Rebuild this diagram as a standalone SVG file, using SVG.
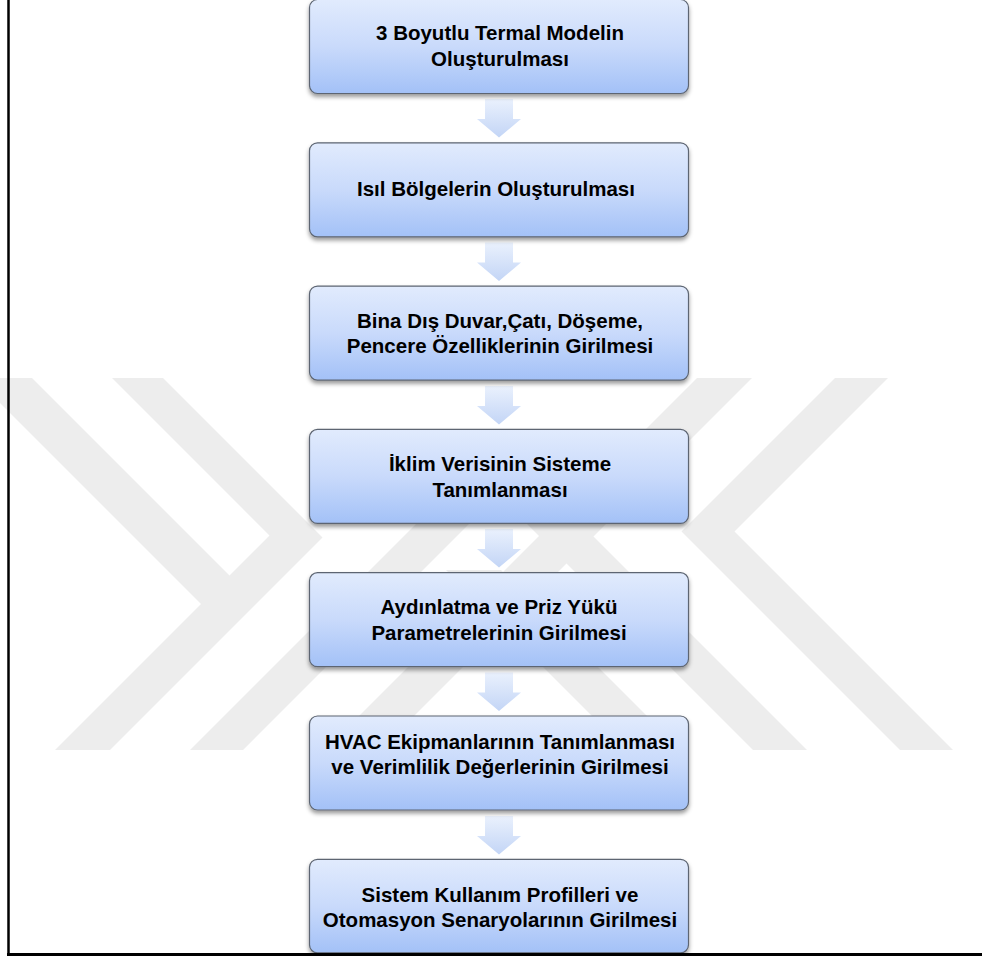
<svg xmlns="http://www.w3.org/2000/svg" width="982" height="956" viewBox="0 0 982 956">
<defs>
  <linearGradient id="boxFill" x1="0" y1="0" x2="0" y2="1">
    <stop offset="0" stop-color="#e1ebfd"/>
    <stop offset="0.5" stop-color="#c9dafb"/>
    <stop offset="1" stop-color="#a3c1f7"/>
  </linearGradient>
  <linearGradient id="arrowFill" x1="0" y1="0" x2="0" y2="1">
    <stop offset="0" stop-color="#eaf1fd"/>
    <stop offset="1" stop-color="#c3d5f6"/>
  </linearGradient>
  <filter id="shadow" x="-5%" y="-10%" width="110%" height="130%">
    <feDropShadow dx="0" dy="3" stdDeviation="2" flood-color="#000" flood-opacity="0.4"/>
  </filter>
  <style>
    .box { fill: url(#boxFill); stroke: #5d6572; stroke-width: 1.2; filter: url(#shadow); }
    .lbl { font-family: "Liberation Sans", Arial, sans-serif; font-weight: bold; font-size: 20.5px; fill: #000; text-anchor: middle; }
    .arrow { fill: url(#arrowFill); }
    .wm { fill: #ededed; }
    .frame { stroke: #000; fill: none; }
  </style>
</defs>
<rect x="0" y="0" width="982" height="956" fill="#ffffff"/>

<g id="watermark">
  <polygon class="wm" points="-25,378 32,378 256,602 201,604"/>
  <polygon class="wm" points="112,378 163,378 322.5,537.5 110,750 55,750 269.5,535.5"/>
  <polygon class="wm" points="190,750 498.5,441.5 807,750 753,750 498,495 243,750"/>
  <polygon class="wm" points="697,378 752,378 380,750 325,750"/>
  <polygon class="wm" points="446,570 501,570 681,750 626,750"/>
  <polygon class="wm" points="835,378 888,378 734.5,531.5 953,750 900,750 681.5,531.5"/>
</g>

<g id="connectors">
  <path class="arrow" d="M485 99 H513 V119 H521 L499 137.5 L477 119 H485 Z"/>
  <path class="arrow" d="M485 242.5 H513 V262.5 H521 L499 281 L477 262.5 H485 Z"/>
  <path class="arrow" d="M485 386 H513 V406 H521 L499 424.5 L477 406 H485 Z"/>
  <path class="arrow" d="M485 529 H513 V549 H521 L499 567.5 L477 549 H485 Z"/>
  <path class="arrow" d="M485 672.5 H513 V692.5 H521 L499 711 L477 692.5 H485 Z"/>
  <path class="arrow" d="M485 816 H513 V836 H521 L499 854.5 L477 836 H485 Z"/>
</g>

<g id="node1">
  <rect class="box" x="309.5" y="-0.5" width="379" height="94" rx="8"/>
  <text class="lbl" x="500" y="40">3 Boyutlu Termal Modelin</text>
  <text class="lbl" x="500" y="66">Oluşturulması</text>
</g>
<g id="node2">
  <rect class="box" x="309.5" y="142.8" width="379" height="94" rx="8"/>
  <text class="lbl" x="496" y="196">Isıl Bölgelerin Oluşturulması</text>
</g>
<g id="node3">
  <rect class="box" x="309.5" y="286.1" width="379" height="94" rx="8"/>
  <text class="lbl" x="500" y="328">Bina Dış Duvar,Çatı, Döşeme,</text>
  <text class="lbl" x="500" y="353">Pencere Özelliklerinin Girilmesi</text>
</g>
<g id="node4">
  <rect class="box" x="309.5" y="429.4" width="379" height="94" rx="8"/>
  <text class="lbl" x="500" y="471">İklim Verisinin Sisteme</text>
  <text class="lbl" x="500" y="497">Tanımlanması</text>
</g>
<g id="node5">
  <rect class="box" x="309.5" y="572.7" width="379" height="94" rx="8"/>
  <text class="lbl" x="499" y="614">Aydınlatma ve Priz Yükü</text>
  <text class="lbl" x="499" y="640">Parametrelerinin Girilmesi</text>
</g>
<g id="node6">
  <rect class="box" x="309.5" y="716" width="379" height="94" rx="8"/>
  <text class="lbl" x="500" y="749">HVAC Ekipmanlarının Tanımlanması</text>
  <text class="lbl" x="500" y="774">ve Verimlilik Değerlerinin Girilmesi</text>
</g>
<g id="node7">
  <rect class="box" x="309.5" y="859.3" width="379" height="93.5" rx="8"/>
  <text class="lbl" x="500" y="902">Sistem Kullanım Profilleri ve</text>
  <text class="lbl" x="500" y="927">Otomasyon Senaryolarının Girilmesi</text>
</g>

<g id="frame">
  <line class="frame" x1="8.5" y1="0" x2="8.5" y2="956" stroke-width="2.5"/>
  <line class="frame" x1="7" y1="954.5" x2="982" y2="954.5" stroke-width="3"/>
</g>
</svg>
